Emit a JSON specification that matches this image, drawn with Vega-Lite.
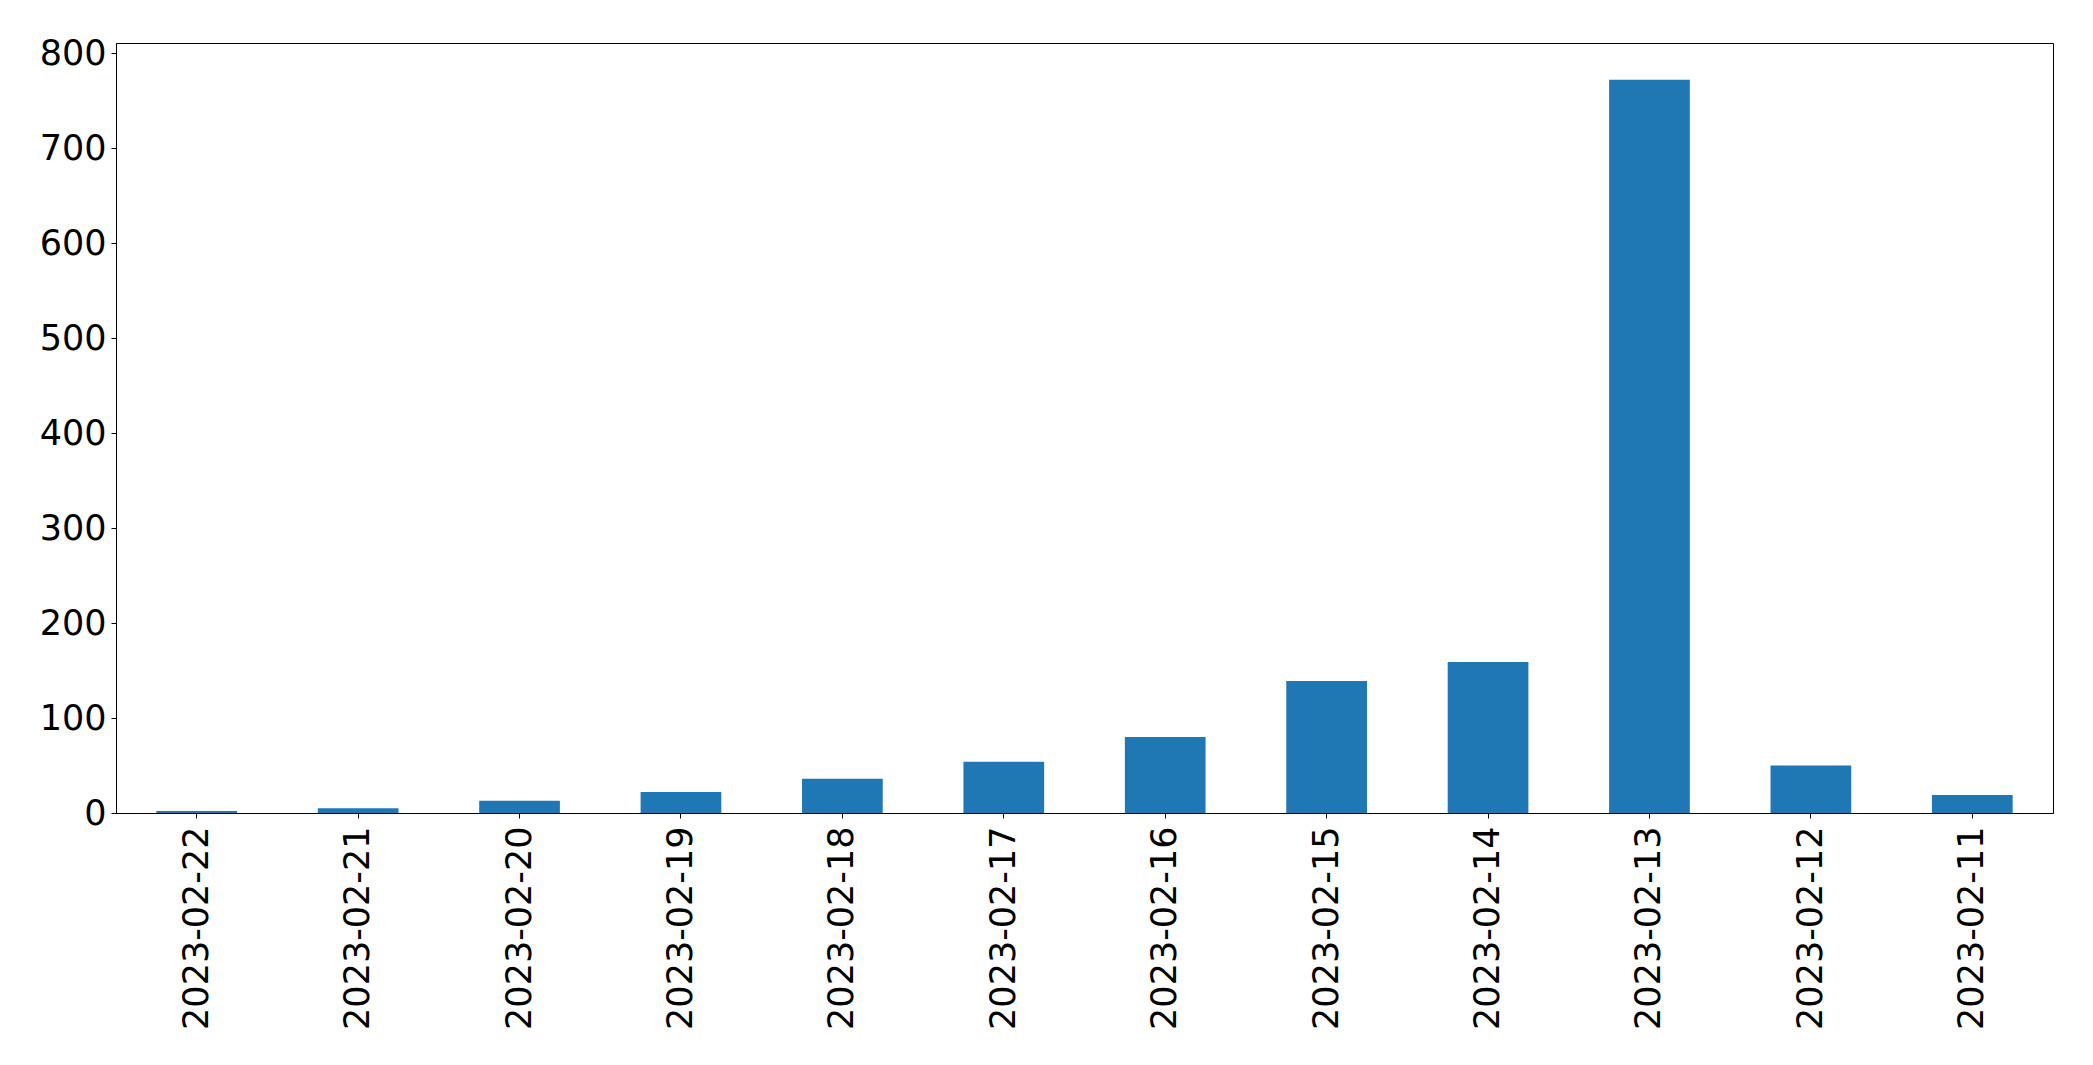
{
  "$schema": "https://vega.github.io/schema/vega-lite/v6.json",
  "width": 1937,
  "height": 770,
  "autosize": {"type": "none"},
  "padding": {"left": 116, "top": 43, "right": 40, "bottom": 252},
  "background": "white",
  "data": {
    "values": [
      {"date": "2023-02-22", "count": 2},
      {"date": "2023-02-21", "count": 5},
      {"date": "2023-02-20", "count": 13},
      {"date": "2023-02-19", "count": 22},
      {"date": "2023-02-18", "count": 36},
      {"date": "2023-02-17", "count": 54},
      {"date": "2023-02-16", "count": 80},
      {"date": "2023-02-15", "count": 139},
      {"date": "2023-02-14", "count": 159},
      {"date": "2023-02-13", "count": 772},
      {"date": "2023-02-12", "count": 50},
      {"date": "2023-02-11", "count": 19}
    ]
  },
  "mark": {"type": "bar", "color": "#1f77b4"},
  "encoding": {
    "x": {
      "field": "date",
      "type": "nominal",
      "sort": null,
      "scale": {"paddingInner": 0.5, "paddingOuter": 0.25},
      "axis": {
        "title": null,
        "labelAngle": -90,
        "labelLimit": 0,
        "labelFont": "DejaVu Sans",
        "labelFontSize": 35,
        "labelColor": "black",
        "tickColor": "black",
        "tickSize": 5,
        "tickWidth": 1,
        "labelPadding": 8,
        "domainColor": "black",
        "domainWidth": 1
      }
    },
    "y": {
      "field": "count",
      "type": "quantitative",
      "scale": {"domain": [0, 810.6], "nice": false, "zero": true},
      "axis": {
        "title": null,
        "values": [0, 100, 200, 300, 400, 500, 600, 700, 800],
        "grid": false,
        "labelFont": "DejaVu Sans",
        "labelFontSize": 35,
        "labelColor": "black",
        "tickColor": "black",
        "tickSize": 5,
        "tickWidth": 1,
        "labelPadding": 5,
        "domainColor": "black",
        "domainWidth": 1
      }
    }
  },
  "config": {
    "view": {"stroke": "black", "strokeWidth": 1}
  }
}
